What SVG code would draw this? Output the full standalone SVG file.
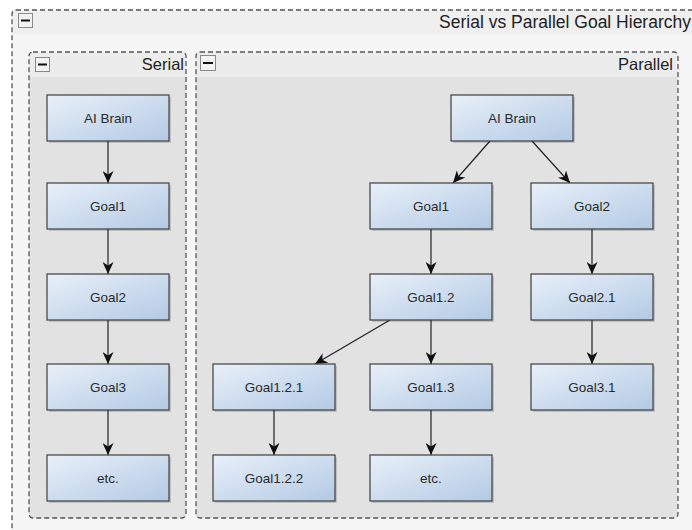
<svg xmlns="http://www.w3.org/2000/svg" width="692" height="530" viewBox="0 0 692 530">
  <defs>
    <linearGradient id="nodeFill" x1="0" y1="0" x2="1" y2="1">
      <stop offset="0" stop-color="#e8f0f9"/>
      <stop offset="1" stop-color="#b3cae4"/>
    </linearGradient>
    <marker id="arrow" markerUnits="userSpaceOnUse" markerWidth="13" markerHeight="11" refX="12" refY="5.5" orient="auto">
      <path d="M0,0 L12,5.5 L0,11 L3.5,5.5 z" fill="#111"/>
    </marker>
    <style>
      .grp { stroke: #555; stroke-width: 1.3; stroke-dasharray: 5 3; fill: none; }
      .hdr-outer { fill: #efefef; }
      .body-outer { fill: #f5f5f5; }
      .hdr-inner { fill: #ececec; }
      .body-inner { fill: #e2e2e2; }
      .btn { fill: #f2f2f2; stroke: #8a8a8a; stroke-width: 1; }
      .btn-bar { stroke: #111; stroke-width: 2; }
      .title { font-family: "Liberation Sans", Arial, sans-serif; font-size: 17.5px; fill: #222; text-anchor: end; }
      .subtitle { font-family: "Liberation Sans", Arial, sans-serif; font-size: 16.5px; fill: #222; text-anchor: end; }
      .node rect.box { fill: url(#nodeFill); stroke: #3e3e3e; stroke-width: 1.2; }
      .node rect.shadow { fill: #000; opacity: 0.15; }
      .node text { font-family: "Liberation Sans", Arial, sans-serif; font-size: 13.5px; fill: #2a2a2a; text-anchor: middle; dominant-baseline: central; }
      .edge { stroke: #222; stroke-width: 1.2; fill: none; marker-end: url(#arrow); }
    </style>
  </defs>

  <rect x="0" y="0" width="692" height="530" fill="#ffffff"/>

  <!-- outer group: Serial vs Parallel Goal Hierarchy -->
  <g id="group-hierarchy">
    <rect class="body-outer" x="12" y="10" width="700" height="540"/>
    <rect class="hdr-outer" x="12" y="10" width="700" height="24"/>
    <rect class="grp" x="12" y="10" width="700" height="540" rx="4"/>
    <rect class="btn" x="18.5" y="13.5" width="14" height="14"/>
    <line class="btn-bar" x1="21" y1="20.5" x2="30" y2="20.5"/>
    <text class="title" x="691" y="28">Serial vs Parallel Goal Hierarchy</text>
  </g>

  <!-- Serial group -->
  <g id="group-serial">
    <rect class="body-inner" x="29" y="52" width="157" height="466" rx="4"/>
    <path class="hdr-inner" d="M33,52 H182 A4,4 0 0 1 186,56 V77 H29 V56 A4,4 0 0 1 33,52 z"/>
    <rect class="grp" x="29" y="52" width="157" height="466" rx="4"/>
    <rect class="btn" x="35.5" y="57.5" width="14" height="14"/>
    <line class="btn-bar" x1="38" y1="64.5" x2="47" y2="64.5"/>
    <text class="subtitle" x="184" y="70">Serial</text>
  </g>

  <!-- Parallel group -->
  <g id="group-parallel">
    <rect class="body-inner" x="196" y="52" width="482" height="466" rx="4"/>
    <path class="hdr-inner" d="M200,52 H674 A4,4 0 0 1 678,56 V77 H196 V56 A4,4 0 0 1 200,52 z"/>
    <rect class="grp" x="196" y="52" width="482" height="466" rx="4"/>
    <rect class="btn" x="200.5" y="55.5" width="15" height="15"/>
    <line class="btn-bar" x1="203" y1="63" x2="213" y2="63"/>
    <text class="subtitle" x="673" y="70">Parallel</text>
  </g>

  <!-- connectors -->
  <g id="connectors">
    <line class="edge" x1="108" y1="141" x2="108" y2="183"/>
    <line class="edge" x1="108" y1="229" x2="108" y2="274"/>
    <line class="edge" x1="108" y1="320" x2="108" y2="364"/>
    <line class="edge" x1="108" y1="410" x2="108" y2="455"/>

    <line class="edge" x1="490" y1="141" x2="453" y2="183"/>
    <line class="edge" x1="532" y1="141" x2="570" y2="183"/>
    <line class="edge" x1="431" y1="229" x2="431" y2="274"/>
    <line class="edge" x1="592" y1="229" x2="592" y2="274"/>
    <line class="edge" x1="390" y1="320" x2="315" y2="364"/>
    <line class="edge" x1="431" y1="320" x2="431" y2="364"/>
    <line class="edge" x1="592" y1="320" x2="592" y2="364"/>
    <line class="edge" x1="274" y1="410" x2="274" y2="455"/>
    <line class="edge" x1="431" y1="410" x2="431" y2="455"/>
  </g>

  <!-- Serial nodes -->
  <g id="s-ai-brain" class="node"><rect class="shadow" x="49" y="97" width="122" height="46"/><rect class="box" x="47" y="95" width="122" height="46"/><text x="108" y="118">AI Brain</text></g>
  <g id="s-goal1" class="node"><rect class="shadow" x="49" y="185" width="122" height="46"/><rect class="box" x="47" y="183" width="122" height="46"/><text x="108" y="206">Goal1</text></g>
  <g id="s-goal2" class="node"><rect class="shadow" x="49" y="276" width="122" height="46"/><rect class="box" x="47" y="274" width="122" height="46"/><text x="108" y="297">Goal2</text></g>
  <g id="s-goal3" class="node"><rect class="shadow" x="49" y="366" width="122" height="46"/><rect class="box" x="47" y="364" width="122" height="46"/><text x="108" y="387">Goal3</text></g>
  <g id="s-etc" class="node"><rect class="shadow" x="49" y="457" width="122" height="46"/><rect class="box" x="47" y="455" width="122" height="46"/><text x="108" y="478">etc.</text></g>

  <!-- Parallel nodes -->
  <g id="p-ai-brain" class="node"><rect class="shadow" x="453" y="97" width="122" height="46"/><rect class="box" x="451" y="95" width="122" height="46"/><text x="512" y="118">AI Brain</text></g>
  <g id="p-goal1" class="node"><rect class="shadow" x="372" y="185" width="122" height="46"/><rect class="box" x="370" y="183" width="122" height="46"/><text x="431" y="206">Goal1</text></g>
  <g id="p-goal2" class="node"><rect class="shadow" x="533" y="185" width="122" height="46"/><rect class="box" x="531" y="183" width="122" height="46"/><text x="592" y="206">Goal2</text></g>
  <g id="p-goal1-2" class="node"><rect class="shadow" x="372" y="276" width="122" height="46"/><rect class="box" x="370" y="274" width="122" height="46"/><text x="431" y="297">Goal1.2</text></g>
  <g id="p-goal2-1" class="node"><rect class="shadow" x="533" y="276" width="122" height="46"/><rect class="box" x="531" y="274" width="122" height="46"/><text x="592" y="297">Goal2.1</text></g>
  <g id="p-goal1-2-1" class="node"><rect class="shadow" x="215" y="366" width="122" height="46"/><rect class="box" x="213" y="364" width="122" height="46"/><text x="274" y="387">Goal1.2.1</text></g>
  <g id="p-goal1-3" class="node"><rect class="shadow" x="372" y="366" width="122" height="46"/><rect class="box" x="370" y="364" width="122" height="46"/><text x="431" y="387">Goal1.3</text></g>
  <g id="p-goal3-1" class="node"><rect class="shadow" x="533" y="366" width="122" height="46"/><rect class="box" x="531" y="364" width="122" height="46"/><text x="592" y="387">Goal3.1</text></g>
  <g id="p-goal1-2-2" class="node"><rect class="shadow" x="215" y="457" width="122" height="46"/><rect class="box" x="213" y="455" width="122" height="46"/><text x="274" y="478">Goal1.2.2</text></g>
  <g id="p-etc" class="node"><rect class="shadow" x="372" y="457" width="122" height="46"/><rect class="box" x="370" y="455" width="122" height="46"/><text x="431" y="478">etc.</text></g>
</svg>
